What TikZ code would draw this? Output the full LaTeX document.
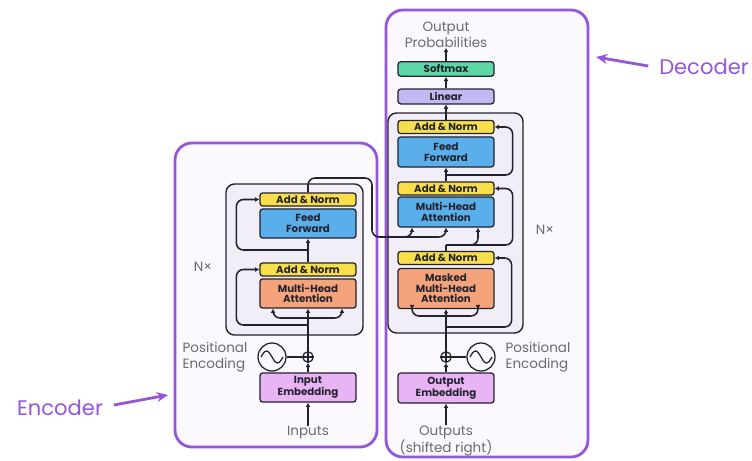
\documentclass[tikz,border=0pt]{standalone}
\usepackage{fontspec}
\setmainfont{Poppins}
\usepackage{xcolor}
\usetikzlibrary{positioning,calc,arrows.meta}

\definecolor{framepurple}{HTML}{9556DB}
\definecolor{framefill}{HTML}{FBF8FE}
\definecolor{stackfill}{HTML}{F1EEF8}
\definecolor{normyellow}{HTML}{F9DE4B}
\definecolor{ffblue}{HTML}{5AAEEA}
\definecolor{attnorange}{HTML}{F5A37A}
\definecolor{embpurple}{HTML}{E8B4F4}
\definecolor{linlav}{HTML}{C5B7F2}
\definecolor{smgreen}{HTML}{5ED6A6}
\definecolor{inkdark}{HTML}{22232E}
\definecolor{labelgray}{HTML}{6B6B6B}

\begin{document}
\begin{tikzpicture}[x=0.025cm, y=-0.025cm,
    block/.style={draw=inkdark, line width=0.9pt, rounded corners=2pt, minimum width=2.4cm,
        align=center, inner sep=0pt, text=inkdark,
        font=\fontsize{7.3}{7.6}\selectfont\bfseries},
    addnorm/.style={block, fill=normyellow, minimum height=0.33cm},
    conn/.style={draw=inkdark, line width=1.1pt, rounded corners=5pt},
    arrow/.style={conn, -{Latex[length=3pt,width=3.5pt]}},
    graylabel/.style={text=labelgray, font=\fontsize{9.6}{11}\selectfont, align=left, inner sep=0pt},
    outerbox/.style={draw=framepurple, line width=2pt, fill=framefill, rounded corners=12pt},
    stackbox/.style={draw=inkdark, line width=1pt, fill=stackfill, rounded corners=6pt},
    callout/.style={draw=framepurple, line width=2pt, -{Stealth[length=8pt,width=7pt]}},
    calloutlabel/.style={text=framepurple, font=\fontsize{15}{17}\selectfont}]

    \useasboundingbox (0,0) rectangle (752,461);

    % Outer frames
    \draw[outerbox] (175,143) rectangle (377,447);
    \draw[outerbox] (386,10) rectangle (588,457);

    % Nx stacks
    \draw[stackbox] (226,184) rectangle (363,335);
    \draw[stackbox] (388,113) rectangle (523,333);

    % Encoder blocks
    \node[addnorm] (enc_an2) at (308,199.5) {Add \& Norm};
    \node[block, fill=ffblue, minimum height=0.73cm] (enc_ff) at (308,223.5) {Feed\\Forward};
    \node[addnorm] (enc_an1) at (308,269.5) {Add \& Norm};
    \node[block, fill=attnorange, minimum height=0.73cm] (enc_mha) at (308,293.5) {Multi-Head\\Attention};
    \node[block, fill=embpurple, minimum height=0.73cm] (enc_emb) at (308,387.5) {Input\\Embedding};
    \node[draw=inkdark, line width=0.9pt, circle, minimum size=0.26cm, inner sep=0pt] (enc_plus) at (308,357) {};
    \node[draw=inkdark, line width=0.9pt, circle, minimum size=0.7cm, inner sep=0pt] (enc_pe) at (272,357) {};
    \node[graylabel] (enc_pelbl) at (215,357) {Positional\\Encoding};
    \node[graylabel] (inputs) at (308,433) {Inputs};
    \node[graylabel] (enc_nx) at (203,267) {N×};

    % Decoder blocks
    \node[graylabel, align=center] (outprob) at (446,35) {Output\\Probabilities};
    \node[block, fill=smgreen, minimum height=0.36cm] (dec_sm) at (446,69) {Softmax};
    \node[block, fill=linlav, minimum height=0.37cm] (dec_lin) at (446,96.5) {Linear};
    \node[addnorm] (dec_an3) at (446,127) {Add \& Norm};
    \node[block, fill=ffblue, minimum height=0.75cm] (dec_ff) at (446,152) {Feed\\Forward};
    \node[addnorm] (dec_an2) at (446,188.5) {Add \& Norm};
    \node[block, fill=ffblue, minimum height=0.75cm] (dec_mha) at (446,212) {Multi-Head\\Attention};
    \node[addnorm] (dec_an1) at (446,258) {Add \& Norm};
    \node[block, fill=attnorange, minimum height=1.0cm] (dec_mmha) at (446,288.5) {Masked\\Multi-Head\\Attention};
    \node[block, fill=embpurple, minimum height=0.75cm] (dec_emb) at (446,388) {Output\\Embedding};
    \node[draw=inkdark, line width=0.9pt, circle, minimum size=0.26cm, inner sep=0pt] (dec_plus) at (446,357) {};
    \node[draw=inkdark, line width=0.9pt, circle, minimum size=0.7cm, inner sep=0pt] (dec_pe) at (481,357) {};
    \node[graylabel] (dec_pelbl) at (538,357) {Positional\\Encoding};
    \node[graylabel, align=center] (outputs) at (446,441) {Outputs\\(shifted right)};
    \node[graylabel] (dec_nx) at (545,230) {N×};

    % Callouts
    \node[calloutlabel] (enc_lbl) at (60,408) {Encoder};
    \node[calloutlabel] (dec_lbl) at (704,67) {Decoder};
    \coordinate (enc_tip) at (168,395);
    \coordinate (dec_tip) at (596,57);
    \draw[callout] (enc_lbl.east) ++(6,-3) -- (enc_tip);
    \draw[callout] (dec_lbl.west) ++(-6,-1) -- (dec_tip);

    % Plus signs and waves
    \foreach \p in {enc_plus, dec_plus} {
        \draw[inkdark, line width=0.8pt] (\p.north) -- (\p.south) (\p.west) -- (\p.east);
    }
    \foreach \w in {enc_pe, dec_pe} {
        \draw[inkdark, line width=0.9pt] ($(\w)+(-11,0)$) sin ($(\w)+(-5.5,-6)$) cos ($(\w)$) sin ($(\w)+(5.5,6)$) cos ($(\w)+(11,0)$);
    }
    \draw[conn] (enc_pe) -- (enc_plus);
    \draw[conn] (dec_pe) -- (dec_plus);

    % Encoder flow
    \coordinate (enc_fork) at (308,318);
    \coordinate (enc_res1) at (308,325);
    \coordinate (enc_res2) at (308,250);
    \draw[arrow] (inputs) -- (enc_emb);
    \draw[arrow] (enc_emb) -- (enc_plus);
    \draw[arrow] (enc_plus) -- (enc_mha);
    \draw[arrow] (enc_fork) -| ($(enc_mha.south)+(-35,0)$);
    \draw[arrow] (enc_fork) -| ($(enc_mha.south)+(34,0)$);
    \draw[arrow] (enc_res1) -| ($(enc_an1.west)+(-23,0)$) -- (enc_an1.west);
    \draw[arrow] (enc_an1) -- (enc_ff);
    \draw[arrow] (enc_res2) -| ($(enc_an2.west)+(-23,0)$) -- (enc_an2.west);

    % Encoder to decoder
    \draw[arrow] (enc_an2.north) |- (372,178) |- (446,237) -- (dec_mha.south);
    \draw[arrow] (395,237) -| ($(dec_mha.south)+(-34,0)$);

    % Decoder flow
    \coordinate (dec_fork) at (446,316);
    \coordinate (dec_res1) at (446,327);
    \coordinate (dec_q) at (446,245);
    \coordinate (dec_res3) at (446,175);
    \draw[arrow] (outputs) -- (dec_emb);
    \draw[arrow] (dec_emb) -- (dec_plus);
    \draw[arrow] (dec_plus) -- (dec_mmha);
    \draw[arrow] (dec_fork) -| ($(dec_mmha.south)+(-34,0)$);
    \draw[arrow] (dec_fork) -| ($(dec_mmha.south)+(32,0)$);
    \draw[arrow] (dec_res1) -| ($(dec_an1.east)+(17,0)$) -- (dec_an1.east);
    \draw[conn] (dec_an1.north) -- (dec_q);
    \draw[arrow] (dec_q) -| ($(dec_mha.south)+(32,0)$);
    \draw[arrow] (dec_q) -| ($(dec_an2.east)+(18,0)$) -- (dec_an2.east);
    \draw[arrow] (dec_an2) -- (dec_ff);
    \draw[arrow] (dec_res3) -| ($(dec_an3.east)+(18,0)$) -- (dec_an3.east);
    \draw[arrow] (dec_an3) -- (dec_lin);
    \draw[arrow] (dec_lin) -- (dec_sm);
    \draw[arrow] (dec_sm) -- (outprob);
\end{tikzpicture}
\end{document}
